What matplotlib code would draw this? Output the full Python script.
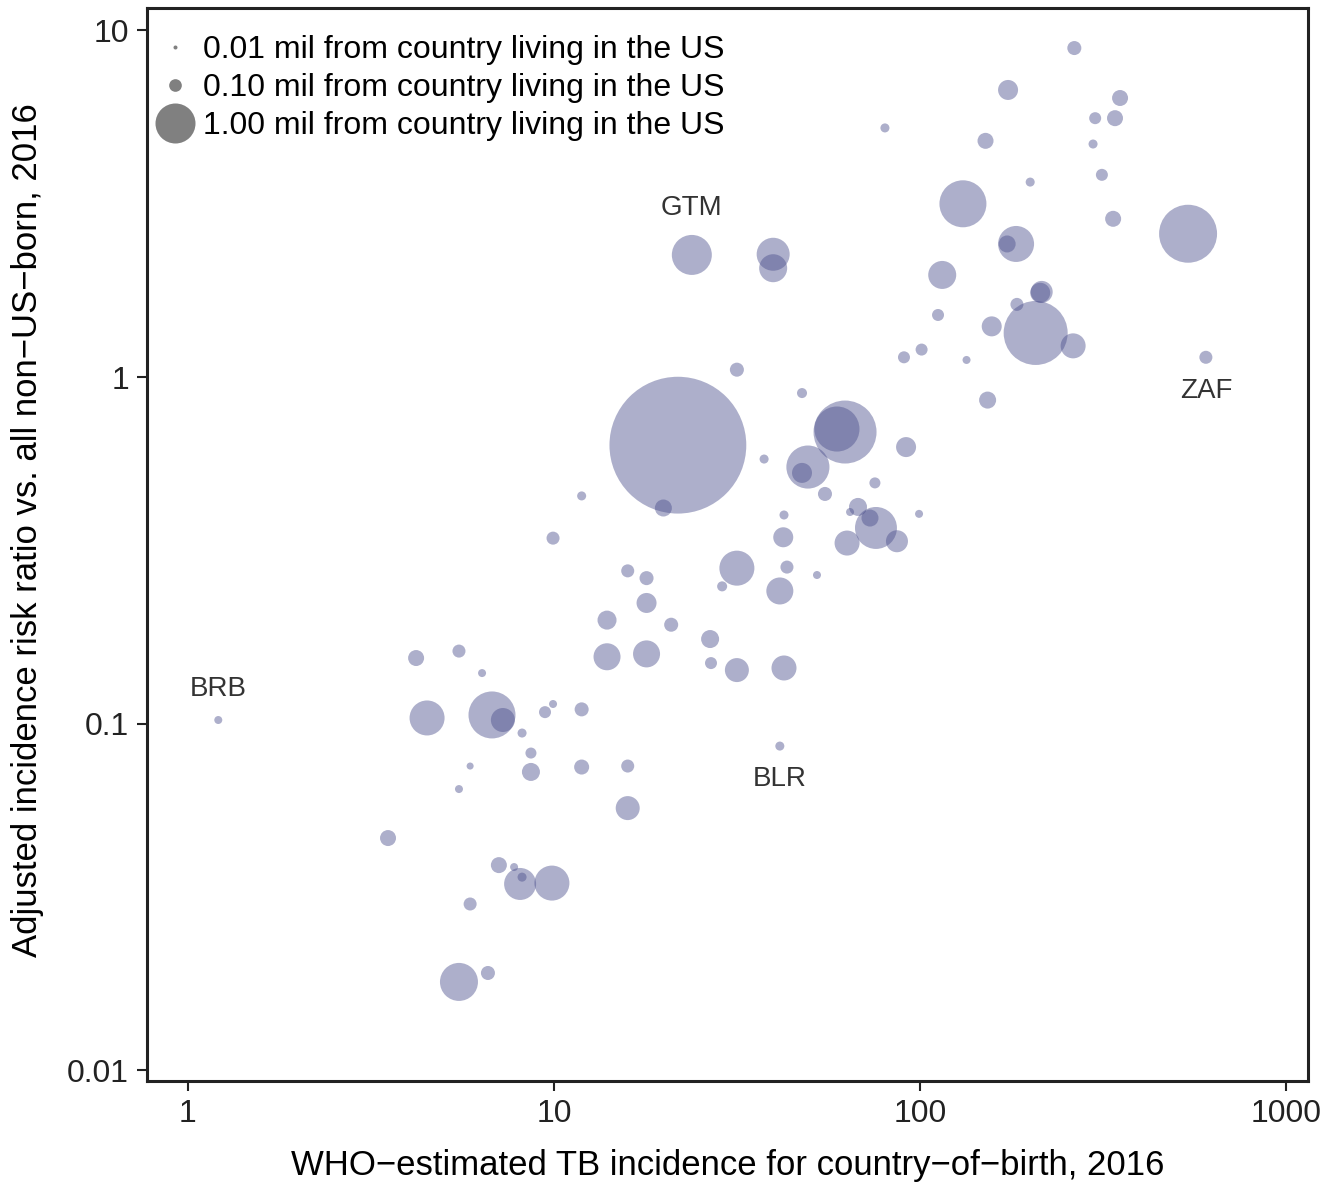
import matplotlib
matplotlib.use("Agg")
import matplotlib.pyplot as plt
from matplotlib.lines import Line2D
from matplotlib.ticker import FixedLocator, FixedFormatter, NullLocator

plt.rcParams['font.family'] = ['Liberation Sans', 'DejaVu Sans']

# WHO-estimated TB incidence of country of birth (per 100k)
tb_incidence = [264, 174, 80.2, 352, 301, 341, 151, 297, 200, 314,
                131, 337, 540, 183, 173, 115, 215, 184, 112, 157,
                207, 262, 604, 101, 90.4, 134, 153, 21.8, 31.6, 47.6,
                62.4, 59.3, 91.6, 37.5, 49.4, 47.6, 11.9, 19.9, 75.3, 55.0,
                67.7, 64.4, 42.5, 99.4, 75.8, 73.0, 86.5, 63.2, 42.3, 9.94,
                31.6, 43.3, 52.3, 15.9, 17.9, 28.8, 41.4, 17.9, 13.96, 20.9,
                26.7, 13.96, 17.9, 26.85, 31.6, 42.5, 23.8, 39.7, 39.7, 4.20,
                5.50, 6.36, 4.50, 6.77, 7.25, 9.45, 9.94, 11.9, 8.18, 8.65,
                8.65, 5.90, 11.9, 15.9, 5.50, 15.9, 3.52, 7.07, 7.78, 8.08,
                8.18, 9.87, 5.90, 5.50, 6.60, 1.21, 41.4, 213]

# adjusted incidence risk ratio vs all non-US-born
risk_ratio = [8.89, 6.73, 5.23, 6.38, 5.58, 5.58, 4.80, 4.70, 3.65, 3.83,
              3.16, 2.86, 2.59, 2.42, 2.42, 1.97, 1.76, 1.62, 1.51, 1.40,
              1.34, 1.23, 1.14, 1.20, 1.14, 1.12, 0.858, 0.636, 1.05, 0.899,
              0.694, 0.708, 0.628, 0.580, 0.550, 0.529, 0.454, 0.419, 0.495, 0.460,
              0.422, 0.408, 0.400, 0.403, 0.367, 0.392, 0.336, 0.332, 0.345, 0.343,
              0.281, 0.283, 0.2685, 0.276, 0.263, 0.249, 0.2415, 0.223, 0.199, 0.193,
              0.1755, 0.156, 0.159, 0.1496, 0.1428, 0.1448, 2.25, 2.26, 2.06, 0.1547,
              0.162, 0.140, 0.1039, 0.106, 0.1025, 0.108, 0.114, 0.110, 0.094, 0.0823,
              0.0726, 0.0755, 0.075, 0.0755, 0.0648, 0.0571, 0.0468, 0.0391, 0.0386, 0.0345,
              0.0361, 0.0347, 0.0302, 0.0180, 0.0191, 0.1025, 0.0862, 1.75]

# people born in that country living in the US (millions)
pop_mil = [0.123, 0.250, 0.051, 0.160, 0.090, 0.160, 0.160, 0.051, 0.051, 0.090,
           1.38, 0.160, 2.10, 0.810, 0.181, 0.490, 0.303, 0.106, 0.090, 0.250,
           2.56, 0.391, 0.106, 0.090, 0.090, 0.040, 0.181, 11.7, 0.123, 0.063,
           2.48, 1.27, 0.250, 0.051, 1.16, 0.250, 0.051, 0.181, 0.076, 0.123,
           0.203, 0.040, 0.051, 0.040, 1.10, 0.181, 0.303, 0.391, 0.250, 0.106,
           0.766, 0.106, 0.040, 0.106, 0.123, 0.063, 0.456, 0.250, 0.226, 0.123,
           0.203, 0.456, 0.456, 0.090, 0.360, 0.391, 1.00, 0.681, 0.490, 0.160,
           0.106, 0.040, 0.766, 1.38, 0.360, 0.090, 0.040, 0.123, 0.051, 0.076,
           0.203, 0.031, 0.141, 0.106, 0.040, 0.360, 0.160, 0.160, 0.040, 0.640,
           0.051, 0.766, 0.106, 0.903, 0.123, 0.040, 0.051, 0.250]

label_codes = ["GTM", "ZAF", "BRB", "BLR"]
label_points = [66, 22, 95, 96]
label_offsets = [34, -24, 22, -24]

legend_sizes = [0.01, 0.10, 1.00]
legend_labels = ["0.01 mil from country living in the US",
                 "0.10 mil from country living in the US",
                 "1.00 mil from country living in the US"]

x_ticks = [1, 10, 100, 1000]
y_ticks = [0.01, 0.1, 1, 10]

# marker area in pt^2 for 1 million people (40 px wide circle at 100 dpi)
area_per_mil = (40 * 0.72) ** 2

fig = plt.figure(figsize=(13.26, 11.92), dpi=100)
ax = fig.add_axes([0.1109, 0.0931, 0.8755, 0.9002])

ax.scatter(tb_incidence, risk_ratio, s=[p * area_per_mil for p in pop_mil],
           color='#4b4f8c', alpha=0.45, linewidths=0, zorder=2)

for code, i, off in zip(label_codes, label_points, label_offsets):
    ax.annotate(code, (tb_incidence[i], risk_ratio[i]), xytext=(0, off),
                textcoords='offset points', ha='center', va='center',
                fontsize=20, color='#333333')

ax.set_xscale('log')
ax.set_yscale('log')
ax.set_xlim(0.773, 1148)
ax.set_ylim(0.00932, 11.6)
ax.xaxis.set_major_locator(FixedLocator(x_ticks))
ax.xaxis.set_major_formatter(FixedFormatter([str(t) for t in x_ticks]))
ax.yaxis.set_major_locator(FixedLocator(y_ticks))
ax.yaxis.set_major_formatter(FixedFormatter([str(t) for t in y_ticks]))
ax.xaxis.set_minor_locator(NullLocator())
ax.yaxis.set_minor_locator(NullLocator())
ax.tick_params(labelsize=23, length=7, width=1.5, colors='#222222', pad=6)

for sp in ax.spines.values():
    sp.set_linewidth(2.2)
    sp.set_color('#222222')

ax.set_xlabel('WHO\u2212estimated TB incidence for country\u2212of\u2212birth, 2016',
              fontsize=25, labelpad=14)
ax.set_ylabel('Adjusted incidence risk ratio vs. all non\u2212US\u2212born, 2016',
              fontsize=25)
ax.yaxis.set_label_coords(-0.0887, 0.513)

handles = [Line2D([], [], marker='o', linestyle='none', color='#808080',
                  markeredgewidth=0, markersize=(s ** 0.5) * 40 * 0.72)
           for s in legend_sizes]
ax.legend(handles, legend_labels, loc='upper left', bbox_to_anchor=(-0.006, 0.9925),
          frameon=False, fontsize=23, handlelength=1.0, handletextpad=0.36,
          labelspacing=0.245, borderaxespad=0.3, borderpad=0.3)

fig.savefig('out.png', dpi=100)
